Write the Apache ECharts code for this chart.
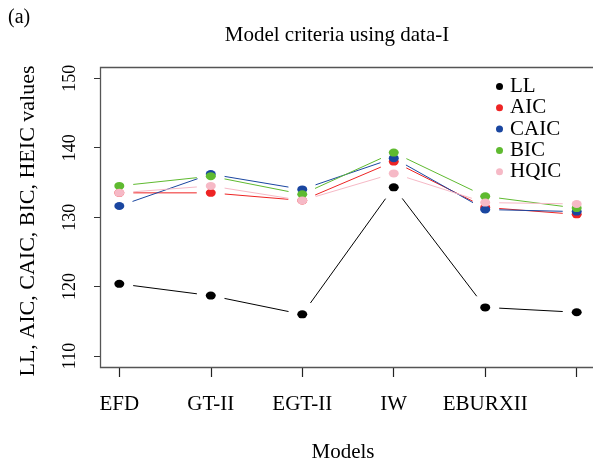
<!DOCTYPE html>
<html>
<head>
<meta charset="utf-8">
<script src="https://cdn.jsdelivr.net/npm/echarts@6/dist/echarts.min.js"></script>
<style>
html,body{margin:0;padding:0;background:#fff;}
#chart{width:593px;height:461px;}
</style>
</head>
<body>
<div id="chart"></div>
<script>
// ---- data ----
var categories = ['EFD', 'GT-II', 'EGT-II', 'IW', 'EBURXII', ''];
var yTicks = [110, 120, 130, 140, 150];
var LL   = [120.4, 118.7, 116.0, 134.3, 117.0, 116.3];
var AIC  = [133.5, 133.5, 132.4, 138.0, 131.4, 130.4];
var CAIC = [131.6, 136.2, 134.0, 138.5, 131.1, 130.8];
var BIC  = [134.5, 135.9, 133.3, 139.3, 133.0, 131.3];
var HQIC = [133.5, 134.5, 132.4, 136.3, 132.1, 131.9];
var seriesNames = ['LL', 'AIC', 'CAIC', 'BIC', 'HQIC'];
var seriesValues = [LL, AIC, CAIC, BIC, HQIC];
var seriesColors = ['#000000', '#ee2424', '#1a46a0', '#5fba30', '#f6b9c6'];

var FONT = 'Liberation Serif, Times New Roman, serif';
var ELLIPSE = 'path://M0,5a5,5 0 1,0 10,0a5,5 0 1,0 -10,0z';
var GAP = 14;

function segData(vals) {
  var out = [];
  for (var i = 0; i < vals.length - 1; i++) out.push([i, vals[i], vals[i + 1]]);
  return out;
}

function makeRender(color) {
  return function (params, api) {
    var p0 = api.coord([api.value(0), api.value(1)]);
    var p1 = api.coord([api.value(0) + 1, api.value(2)]);
    var dx = p1[0] - p0[0], dy = p1[1] - p0[1];
    var L = Math.sqrt(dx * dx + dy * dy);
    if (L <= 2 * GAP) return null;
    var ux = dx / L, uy = dy / L;
    return {
      type: 'line',
      shape: { x1: p0[0] + ux * GAP, y1: p0[1] + uy * GAP, x2: p1[0] - ux * GAP, y2: p1[1] - uy * GAP },
      style: { stroke: color, lineWidth: 1 }
    };
  };
}

var series = [];
seriesNames.forEach(function (name, k) {
  series.push({
    name: name, type: 'scatter', data: seriesValues[k],
    symbol: ELLIPSE, symbolSize: [10, 8], z: 3,
    itemStyle: { color: seriesColors[k], opacity: 1 },
    emphasis: { disabled: true }, silent: true
  });
});
seriesNames.forEach(function (name, k) {
  series.push({
    name: name, type: 'custom', data: segData(seriesValues[k]),
    encode: { x: 0, y: 1 }, z: 2,
    itemStyle: { color: seriesColors[k] },
    renderItem: makeRender(seriesColors[k]), silent: true
  });
});

var chart = echarts.init(document.getElementById('chart'), null, { renderer: 'canvas' });
chart.setOption({
  animation: false,
  backgroundColor: '#fff',
  grid: { left: 119.3, right: 16.3, top: 78.3, bottom: 105, containLabel: false },
  xAxis: {
    type: 'category', data: categories, boundaryGap: false, offset: 11,
    axisLine: { show: false },
    axisTick: { show: true, length: 10, alignWithLabel: true, lineStyle: { color: '#222', width: 1.2 } },
    axisLabel: { fontFamily: FONT, fontSize: 21, color: '#000', margin: 27, interval: 0 },
    splitLine: { show: false }
  },
  yAxis: {
    type: 'value', min: yTicks[0], max: yTicks[yTicks.length - 1], interval: 10, offset: 19.3,
    axisLine: { show: false },
    axisTick: { show: true, length: 6, lineStyle: { color: '#333', width: 1 } },
    axisLabel: { fontFamily: FONT, fontSize: 18, color: '#000', rotate: 90, margin: 21 },
    splitLine: { show: false }
  },
  legend: {
    orient: 'vertical', left: 496, top: 76, padding: 0,
    itemWidth: 9, itemHeight: 7, itemGap: 0.3,
    data: seriesNames.map(function (n, k) { return { name: n, icon: ELLIPSE, itemStyle: { color: seriesColors[k] } }; }),
    textStyle: { fontFamily: FONT, fontSize: 21, color: '#000', lineHeight: 18, padding: [0, 0, 0, 1] },
    selectedMode: false
  },
  graphic: [
    { type: 'rect', silent: true, z: 1,
      shape: { x: 100.5, y: 67.5, width: 520, height: 300 },
      style: { fill: 'none', stroke: '#555', lineWidth: 1.3 } },
    { type: 'text', x: 8, y: 18, silent: true,
      style: { text: '(a)', font: '20px ' + FONT, fill: '#000', align: 'left', verticalAlign: 'middle' } },
    { type: 'text', x: 337, y: 35, silent: true,
      style: { text: 'Model criteria using data-I', font: '21px ' + FONT, fill: '#000', align: 'center', verticalAlign: 'middle' } },
    { type: 'text', x: 343, y: 452, silent: true,
      style: { text: 'Models', font: '21px ' + FONT, fill: '#000', align: 'center', verticalAlign: 'middle' } },
    { type: 'text', x: 28, y: 221, rotation: Math.PI / 2, silent: true,
      style: { text: 'LL, AIC, CAIC, BIC, HEIC values', font: '22px ' + FONT, fill: '#000', align: 'center', verticalAlign: 'middle' } }
  ],
  series: series
});
</script>
</body>
</html>
